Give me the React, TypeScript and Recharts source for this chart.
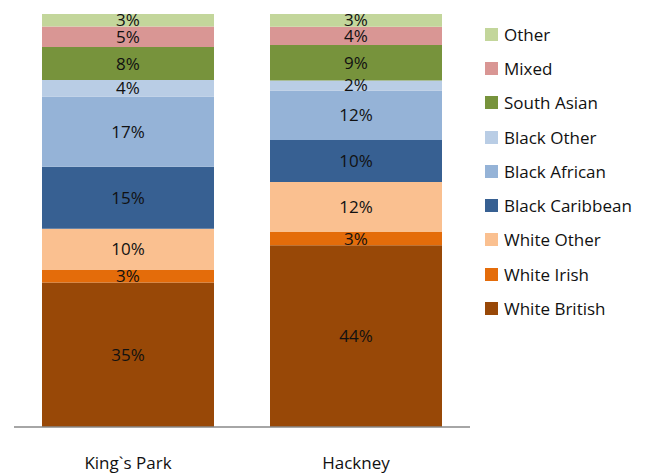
import React from "react";
import { BarChart, Bar, XAxis, YAxis, LabelList } from "recharts";

const categories = ["King`s Park", "Hackney"];
const whiteBritish = [35, 44.0];
const whiteIrish = [3, 3.2];
const whiteOther = [10, 12.1];
const blackCaribbean = [15, 10.2];
const blackAfrican = [17, 12.0];
const blackOther = [4, 2.4];
const southAsian = [8, 8.6];
const mixed = [5, 4.4];
const other = [3, 3.1];

const seriesDefs = [
  { key: "White British", values: whiteBritish, color: "#984807" },
  { key: "White Irish", values: whiteIrish, color: "#E46C0A" },
  { key: "White Other", values: whiteOther, color: "#FAC090" },
  { key: "Black Caribbean", values: blackCaribbean, color: "#376092" },
  { key: "Black African", values: blackAfrican, color: "#95B3D7" },
  { key: "Black Other", values: blackOther, color: "#B9CDE5" },
  { key: "South Asian", values: southAsian, color: "#77933C" },
  { key: "Mixed", values: mixed, color: "#D99694" },
  { key: "Other", values: other, color: "#C3D69B" },
];

const data = categories.map((c, i) => {
  const row: Record<string, any> = { name: c };
  seriesDefs.forEach((s) => (row[s.key] = s.values[i]));
  return row;
});

const FONT = "'Open Sans', sans-serif";

const LegendBox = () => (
  <div
    style={{
      position: "absolute",
      left: 485,
      top: 17,
      width: 180,
      fontFamily: FONT,
      fontSize: 17,
      color: "#111",
    }}
  >
    {[...seriesDefs].reverse().map((s) => (
      <div key={s.key} style={{ display: "flex", alignItems: "center", height: 34.3 }}>
        <span style={{ width: 13, height: 13, background: s.color, display: "inline-block", marginRight: 6 }} />
        <span>{s.key}</span>
      </div>
    ))}
  </div>
);

export default function App() {
  return (
    <div style={{ position: "absolute", left: 0, top: 0, width: 667, height: 473, background: "#fff" }}>
      <BarChart width={667} height={473} data={data} margin={{ top: 14, right: 197, left: 14, bottom: 16 }}>
        <XAxis
          dataKey="name"
          axisLine={{ stroke: "#898989", strokeWidth: 1.5 }}
          tickLine={false}
          tickSize={0}
          tickMargin={30}
          height={30}
          tick={{ fontFamily: FONT, fontSize: 17, fill: "#111" }}
        />
        <YAxis hide domain={[0, 100]} />
        {seriesDefs.map((s) => (
          <Bar key={s.key} dataKey={s.key} stackId="a" fill={s.color} barSize={172} isAnimationActive={false}>
            <LabelList
              dataKey={s.key}
              position="center"
              formatter={(v: any) => `${Math.round(Number(v))}%`}
              style={{ fontFamily: FONT, fontSize: 17, fill: "#111" }}
            />
          </Bar>
        ))}
      </BarChart>
      <LegendBox />
    </div>
  );
}
